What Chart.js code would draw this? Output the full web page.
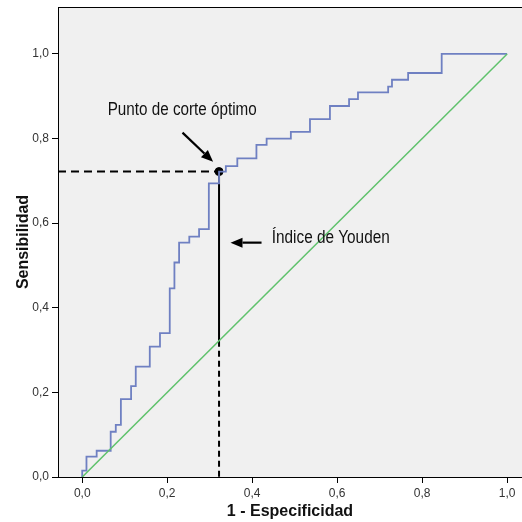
<!DOCTYPE html>
<html>
<head>
<meta charset="utf-8">
<script src="https://cdn.jsdelivr.net/npm/chart.js@4.4.1/dist/chart.umd.min.js"></script>
<style>
  html, body { margin: 0; padding: 0; background: #fff; overflow: hidden; }
  #wrap { width: 522px; height: 522px; }
</style>
</head>
<body>
<div id="wrap"><canvas id="roc"></canvas></div>
<script>
// Curva ROC (1 - especificidad, sensibilidad)
const fpr = [0, 0, 0.010, 0.034, 0.067, 0.079, 0.091, 0.115, 0.126, 0.159, 0.183,
  0.206, 0.217, 0.228, 0.252, 0.275, 0.298, 0.322, 0.338, 0.365, 0.410, 0.434,
  0.491, 0.536, 0.583, 0.628, 0.649, 0.720, 0.729, 0.767, 0.846, 1.0];
const tpr = [0, 0.015, 0.048, 0.062, 0.107, 0.123, 0.184, 0.215, 0.261, 0.308, 0.340,
  0.446, 0.507, 0.554, 0.568, 0.586, 0.694, 0.722, 0.735, 0.753, 0.785, 0.800,
  0.816, 0.846, 0.877, 0.893, 0.909, 0.923, 0.939, 0.955, 1.0, 1.0];

// Línea de referencia
const refX = [0, 1];
const refY = [0, 1];

// Punto de corte óptimo
const corteX = 0.322;
const corteY = 0.722;

const xTicks = [0, 0.2, 0.4, 0.6, 0.8, 1.0];
const yTicks = [0, 0.2, 0.4, 0.6, 0.8, 1.0];

const X_MIN = -0.057, X_MAX = 1.035;
const Y_MIN = 0, Y_MAX = 1.111;

const fmt = v => v.toFixed(1).replace('.', ',');
const toPts = (xs, ys) => xs.map((x, i) => ({ x: x, y: ys[i] }));

// Fondo gris del área de trazado y borde superior
const fondo = {
    id: 'fondo',
    beforeDraw(chart) {
        const { ctx, chartArea: a } = chart;
        ctx.save();
        ctx.fillStyle = '#f0f0f0';
        ctx.fillRect(a.left, a.top, a.right - a.left, a.bottom - a.top);
        ctx.restore();
    },
    afterDraw(chart) {
        const { ctx, chartArea: a } = chart;
        ctx.save();
        ctx.strokeStyle = '#000';
        ctx.lineWidth = 1;
        ctx.beginPath();
        ctx.moveTo(a.left, a.top + 0.5);
        ctx.lineTo(a.right, a.top + 0.5);
        ctx.stroke();
        ctx.restore();
    }
};

function flecha(ctx, x1, y1, x2, y2) {
    const ang = Math.atan2(y2 - y1, x2 - x1);
    const L = 12, W = 5;
    ctx.beginPath();
    ctx.moveTo(x1, y1);
    ctx.lineTo(x2 - L * Math.cos(ang), y2 - L * Math.sin(ang));
    ctx.stroke();
    ctx.beginPath();
    ctx.moveTo(x2, y2);
    ctx.lineTo(x2 - L * Math.cos(ang) + W * Math.sin(ang), y2 - L * Math.sin(ang) - W * Math.cos(ang));
    ctx.lineTo(x2 - L * Math.cos(ang) - W * Math.sin(ang), y2 - L * Math.sin(ang) + W * Math.cos(ang));
    ctx.closePath();
    ctx.fill();
}

// Flechas y textos de anotación
const anotaciones = {
    id: 'anotaciones',
    afterDatasetsDraw(chart) {
        const { ctx, scales: { x, y } } = chart;
        ctx.save();
        ctx.strokeStyle = '#000';
        ctx.fillStyle = '#000';
        ctx.lineWidth = 2.2;
        flecha(ctx, x.getPixelForValue(0.236), y.getPixelForValue(0.814),
                    x.getPixelForValue(0.308), y.getPixelForValue(0.745));
        flecha(ctx, x.getPixelForValue(0.422), y.getPixelForValue(0.554),
                    x.getPixelForValue(0.349), y.getPixelForValue(0.554));
        ctx.font = '17.5px "Liberation Sans", Arial, sans-serif';
        ctx.fillStyle = '#111';
        ctx.textBaseline = 'middle';
        ctx.textAlign = 'left';
        // texto estrecho como en el original
        ctx.fillText('Punto de corte óptimo', x.getPixelForValue(0.06), y.getPixelForValue(0.867), 149);
        ctx.fillText('Índice de Youden', x.getPixelForValue(0.446), y.getPixelForValue(0.565), 118);
        ctx.restore();
    }
};

const ctx = document.getElementById('roc').getContext('2d');
new Chart(ctx, {
    type: 'scatter',
    data: {
        datasets: [
            {
                data: toPts(refX, refY),
                showLine: true,
                borderColor: '#5fc26c',
                borderWidth: 1.5,
                pointRadius: 0
            },
            {
                data: toPts(fpr, tpr),
                showLine: true,
                stepped: 'before',
                borderColor: '#6f80c2',
                borderWidth: 1.8,
                pointRadius: 0
            },
            {
                // línea discontinua horizontal hasta el punto de corte
                data: [{ x: X_MIN, y: corteY }, { x: corteX, y: corteY }],
                showLine: true,
                borderColor: '#000',
                borderWidth: 2,
                borderDash: [8, 5],
                pointRadius: 0
            },
            {
                // índice de Youden: del punto de corte a la diagonal
                data: [{ x: corteX, y: corteY }, { x: corteX, y: corteX }],
                showLine: true,
                borderColor: '#000',
                borderWidth: 2,
                pointRadius: 0
            },
            {
                data: [{ x: corteX, y: corteX }, { x: corteX, y: 0 }],
                showLine: true,
                borderColor: '#000',
                borderWidth: 2,
                borderDash: [6, 4],
                pointRadius: 0
            },
            {
                data: [{ x: corteX, y: corteY }],
                pointRadius: 4,
                pointBackgroundColor: '#000',
                pointBorderColor: '#000'
            }
        ]
    },
    options: {
        responsive: true,
        maintainAspectRatio: false,
        animation: false,
        layout: { autoPadding: false, padding: { top: 7, right: 0, left: 0, bottom: 0 } },
        plugins: { legend: { display: false }, tooltip: { enabled: false } },
        scales: {
            x: {
                type: 'linear',
                min: X_MIN,
                max: X_MAX,
                afterBuildTicks: s => { s.ticks = xTicks.map(v => ({ value: v })); },
                afterFit: s => { s.height = 45; s.paddingLeft = 0; s.paddingRight = 0; },
                grid: { drawOnChartArea: false, drawTicks: true, tickLength: 6, color: '#000' },
                border: { display: true, color: '#000', width: 1 },
                ticks: {
                    callback: v => fmt(v),
                    color: '#333',
                    padding: 3,
                    maxRotation: 0,
                    font: { family: '"Liberation Sans", Arial, sans-serif', size: 12 }
                },
                title: {
                    display: true,
                    text: '1 - Especificidad',
                    color: '#111',
                    padding: { top: 0, bottom: 1 },
                    font: { family: '"Liberation Sans", Arial, sans-serif', size: 16, weight: 'bold' }
                }
            },
            y: {
                type: 'linear',
                min: Y_MIN,
                max: Y_MAX,
                afterBuildTicks: s => { s.ticks = yTicks.map(v => ({ value: v })); },
                afterFit: s => { s.width = 58; s.paddingTop = 0; s.paddingBottom = 0; },
                grid: { drawOnChartArea: false, drawTicks: true, tickLength: 6, color: '#000' },
                border: { display: true, color: '#000', width: 1 },
                ticks: {
                    callback: v => fmt(v),
                    color: '#333',
                    padding: 3,
                    font: { family: '"Liberation Sans", Arial, sans-serif', size: 12 }
                },
                title: {
                    display: true,
                    text: 'Sensibilidad',
                    color: '#111',
                    padding: { top: 14, bottom: 0 },
                    font: { family: '"Liberation Sans", Arial, sans-serif', size: 16, weight: 'bold' }
                }
            }
        }
    },
    plugins: [fondo, anotaciones]
});
</script>
</body>
</html>
